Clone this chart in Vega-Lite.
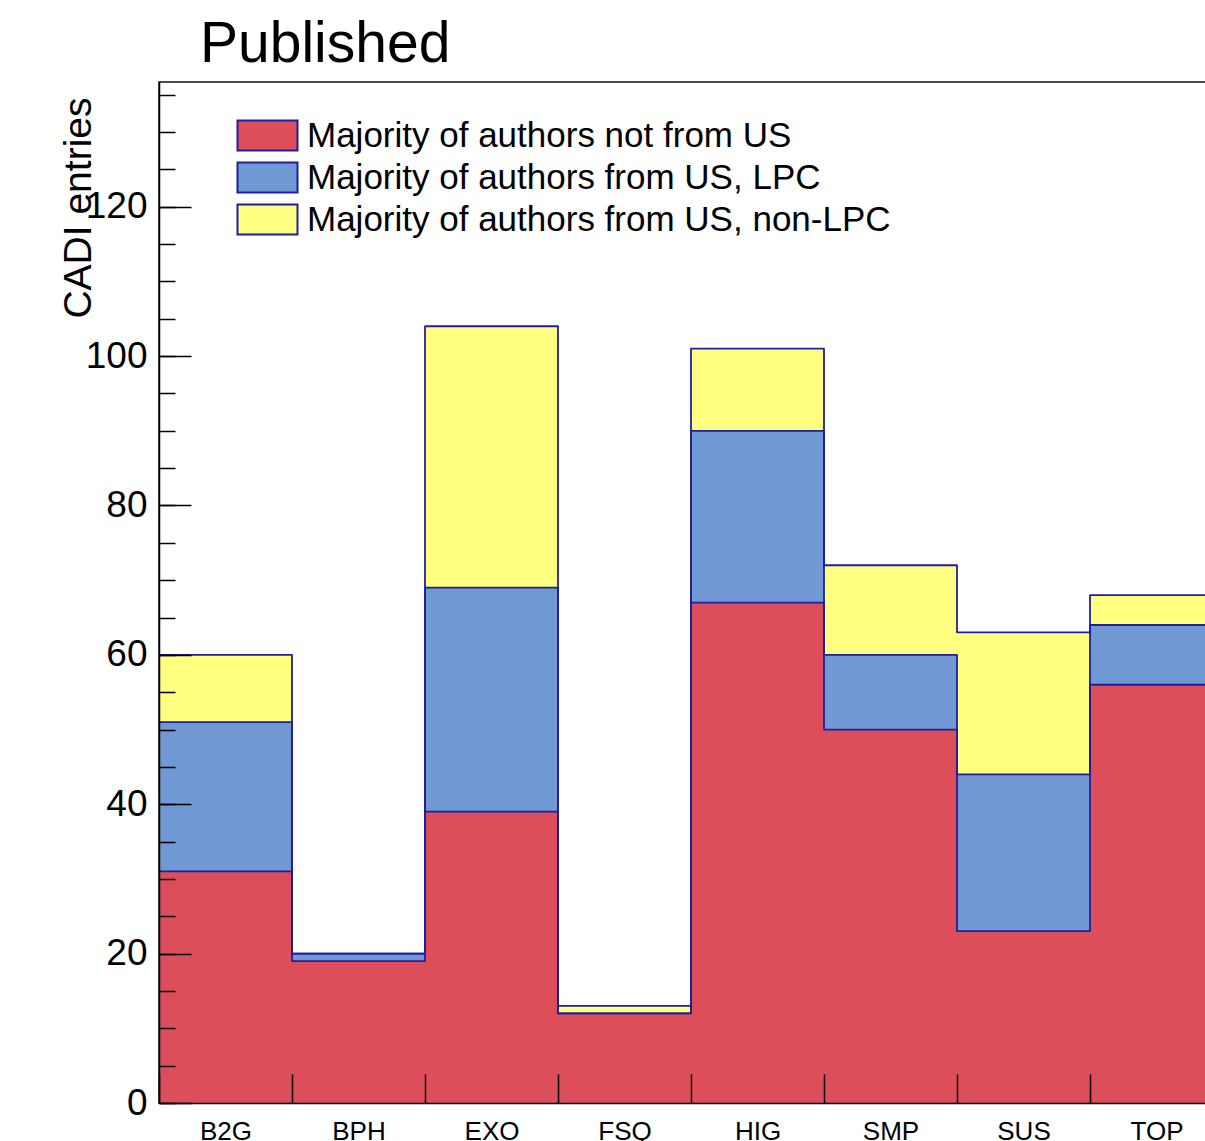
{
  "$schema": "https://vega.github.io/schema/vega-lite/v6.json",
  "width": 1064,
  "height": 1021,
  "autosize": {"type": "none"},
  "padding": {"left": 159, "top": 82, "right": 0, "bottom": 38},
  "background": "white",
  "config": {
    "font": "Liberation Sans",
    "view": {"stroke": "#111111", "strokeWidth": 1.5}
  },
  "title": {
    "text": "Published",
    "anchor": "start",
    "frame": "group",
    "fontSize": 57,
    "fontWeight": "normal",
    "color": "black",
    "dx": 41,
    "dy": 57,
    "offset": 20,
    "baseline": "alphabetic"
  },
  "data": {
    "values": [
      {"group": "B2G", "series": "Majority of authors not from US", "order": 1, "value": 31},
      {"group": "B2G", "series": "Majority of authors from US, LPC", "order": 2, "value": 20},
      {"group": "B2G", "series": "Majority of authors from US, non-LPC", "order": 3, "value": 9},
      {"group": "BPH", "series": "Majority of authors not from US", "order": 1, "value": 19},
      {"group": "BPH", "series": "Majority of authors from US, LPC", "order": 2, "value": 1},
      {"group": "BPH", "series": "Majority of authors from US, non-LPC", "order": 3, "value": 0},
      {"group": "EXO", "series": "Majority of authors not from US", "order": 1, "value": 39},
      {"group": "EXO", "series": "Majority of authors from US, LPC", "order": 2, "value": 30},
      {"group": "EXO", "series": "Majority of authors from US, non-LPC", "order": 3, "value": 35},
      {"group": "FSQ", "series": "Majority of authors not from US", "order": 1, "value": 12},
      {"group": "FSQ", "series": "Majority of authors from US, LPC", "order": 2, "value": 0},
      {"group": "FSQ", "series": "Majority of authors from US, non-LPC", "order": 3, "value": 1},
      {"group": "HIG", "series": "Majority of authors not from US", "order": 1, "value": 67},
      {"group": "HIG", "series": "Majority of authors from US, LPC", "order": 2, "value": 23},
      {"group": "HIG", "series": "Majority of authors from US, non-LPC", "order": 3, "value": 11},
      {"group": "SMP", "series": "Majority of authors not from US", "order": 1, "value": 50},
      {"group": "SMP", "series": "Majority of authors from US, LPC", "order": 2, "value": 10},
      {"group": "SMP", "series": "Majority of authors from US, non-LPC", "order": 3, "value": 12},
      {"group": "SUS", "series": "Majority of authors not from US", "order": 1, "value": 23},
      {"group": "SUS", "series": "Majority of authors from US, LPC", "order": 2, "value": 21},
      {"group": "SUS", "series": "Majority of authors from US, non-LPC", "order": 3, "value": 19},
      {"group": "TOP", "series": "Majority of authors not from US", "order": 1, "value": 56},
      {"group": "TOP", "series": "Majority of authors from US, LPC", "order": 2, "value": 8},
      {"group": "TOP", "series": "Majority of authors from US, non-LPC", "order": 3, "value": 4}
    ]
  },
  "layer": [
    {
      "mark": {"type": "bar", "strokeWidth": 0},
      "encoding": {
        "x": {
          "field": "group",
          "type": "nominal",
          "scale": {"paddingInner": 0, "paddingOuter": 0},
          "axis": {
            "title": null,
            "labelAngle": 0,
            "tickBand": "extent",
            "tickSize": -29,
            "tickWidth": 1.5,
            "tickColor": "black",
            "domainColor": "black",
            "domainWidth": 1.5,
            "labelFontSize": 26,
            "labelColor": "black",
            "labelBaseline": "alphabetic",
            "labelPadding": 65,
            "zindex": 1
          }
        },
        "y": {
          "field": "value",
          "type": "quantitative",
          "stack": "zero",
          "scale": {"domain": [0, 136.7], "nice": false, "zero": true},
          "axis": {
            "orient": "left",
            "values": [0, 20, 40, 60, 80, 100, 120],
            "title": "CADI entries",
            "titleFontSize": 39,
            "titleFontWeight": "normal",
            "titleColor": "black",
            "titleAngle": 270,
            "titleAlign": "right",
            "titleBaseline": "alphabetic",
            "titleX": -69,
            "titleY": 15,
            "tickSize": -32,
            "tickWidth": 1.5,
            "tickColor": "black",
            "domainColor": "black",
            "domainWidth": 1.5,
            "labelFontSize": 37,
            "labelColor": "black",
            "labelPadding": 44,
            "grid": false,
            "zindex": 1
          }
        },
        "order": {"field": "order", "type": "quantitative"},
        "color": {
          "field": "series",
          "type": "nominal",
          "scale": {
            "domain": ["Majority of authors not from US", "Majority of authors from US, LPC", "Majority of authors from US, non-LPC"],
            "range": ["#DD4E5B", "#7098D2", "#FFFF80"]
          },
          "legend": {
            "orient": "none",
            "legendX": 91,
            "legendY": 36,
            "title": null,
            "symbolType": "M-2,-1H2V1H-2Z",
            "symbolSize": 900,
            "symbolStrokeColor": "#1e1ea0",
            "symbolStrokeWidth": 2,
            "symbolOpacity": 1,
            "labelFontSize": 35,
            "labelColor": "black",
            "labelOffset": 22,
            "labelLimit": 0,
            "rowPadding": 3,
            "padding": 0
          }
        }
      }
    },
    {
      "transform": [
        {"stack": "value", "groupby": ["group"], "sort": [{"field": "order", "order": "ascending"}], "as": ["lo", "hi"]}
      ],
      "mark": {"type": "tick", "orient": "horizontal", "size": 134, "thickness": 1.8, "color": "#1e1ea0", "opacity": 1},
      "encoding": {
        "x": {"field": "group", "type": "nominal"},
        "y": {
          "field": "hi",
          "type": "quantitative",
          "scale": {"domain": [0, 136.7], "nice": false},
          "axis": {
            "orient": "left",
            "values": [0, 5, 10, 15, 20, 25, 30, 35, 40, 45, 50, 55, 60, 65, 70, 75, 80, 85, 90, 95, 100, 105, 110, 115, 120, 125, 130, 135],
            "labels": false,
            "domain": false,
            "title": null,
            "tickSize": -16,
            "tickWidth": 1.5,
            "tickColor": "black",
            "grid": false,
            "zindex": 1
          }
        }
      }
    },
    {
      "transform": [
        {"stack": "value", "groupby": ["group"], "sort": [{"field": "order", "order": "ascending"}], "as": ["lo", "hi"]},
        {"window": [{"op": "lag", "field": "hi", "as": "prev"}], "groupby": ["series"], "sort": [{"field": "group", "order": "ascending"}]},
        {"filter": "datum.prev != null"}
      ],
      "mark": {"type": "rule", "color": "#1e1ea0", "strokeWidth": 1.8},
      "encoding": {
        "x": {"field": "group", "type": "nominal", "bandPosition": 0},
        "y": {"field": "hi", "type": "quantitative", "scale": {"domain": [0, 136.7], "nice": false}, "axis": null},
        "y2": {"field": "prev"}
      }
    }
  ],
  "resolve": {"axis": {"y": "independent"}}
}
